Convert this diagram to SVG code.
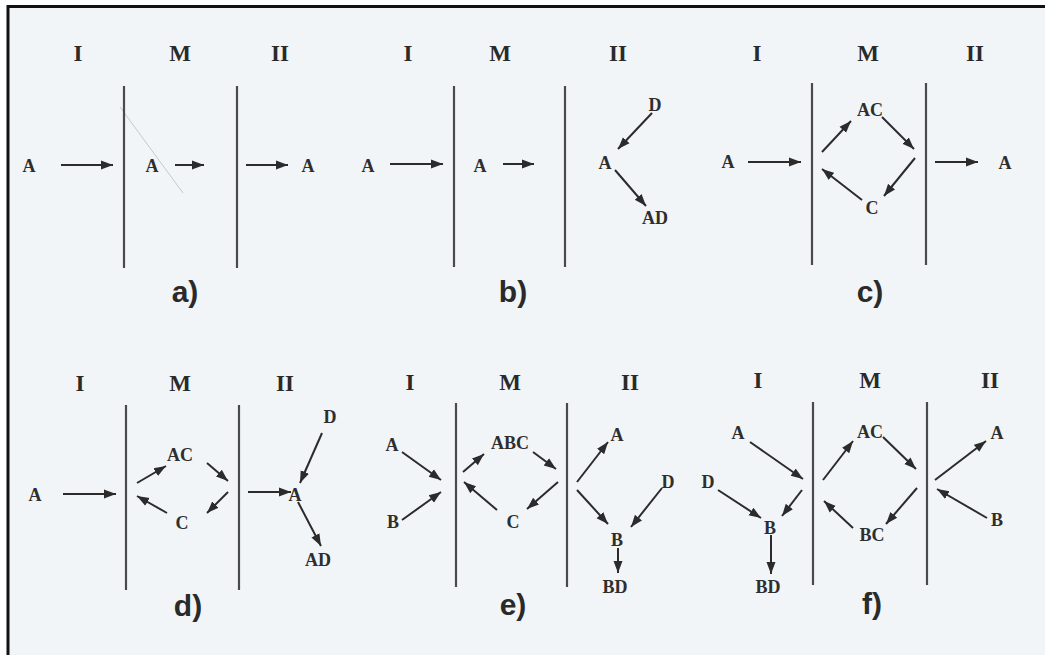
<svg xmlns="http://www.w3.org/2000/svg" width="1045" height="655" viewBox="0 0 1045 655">
<defs>
<marker id="ah" markerUnits="userSpaceOnUse" markerWidth="13" markerHeight="11" refX="12" refY="5.5" orient="auto">
<path d="M0,1 L12,5.5 L0,10 Z" fill="#2b2b2b"/>
</marker>
<style>
.bg{fill:#f1f5f8}
.hd{font-family:"Liberation Serif",serif;font-weight:bold;font-size:23px;fill:#2a2a2a;text-anchor:middle}
.lb{font-family:"Liberation Serif",serif;font-weight:bold;font-size:18px;fill:#2e2e2e;text-anchor:middle}
.pl{font-family:"Liberation Sans",Arial,sans-serif;font-weight:bold;font-size:30px;fill:#2a2a2a;text-anchor:middle}
.wall{stroke:#4a4a4a;stroke-width:2.2;fill:none}
.ar{stroke:#2b2b2b;stroke-width:2;fill:none;marker-end:url(#ah)}
</style>
</defs>
<rect x="0" y="0" width="1045" height="655" fill="#ffffff"/>
<rect class="bg" x="8" y="6" width="1037" height="649"/>
<path d="M8,655 L8,6.5 L1045,6.5" fill="none" stroke="#111" stroke-width="3"/>

<!-- faint scan artifact -->
<line x1="120" y1="107" x2="183" y2="193" stroke="#9aa0a6" stroke-width="1" opacity="0.5"/>

<g id="walls">
<line class="wall" x1="124" y1="86" x2="124" y2="268"/>
<line class="wall" x1="237" y1="86" x2="237" y2="268"/>
<line class="wall" x1="454" y1="86" x2="454" y2="267"/>
<line class="wall" x1="565" y1="86" x2="565" y2="267"/>
<line class="wall" x1="812" y1="83" x2="812" y2="265"/>
<line class="wall" x1="926" y1="83" x2="926" y2="265"/>
<line class="wall" x1="126" y1="405" x2="126" y2="590"/>
<line class="wall" x1="239" y1="405" x2="239" y2="590"/>
<line class="wall" x1="456" y1="403" x2="456" y2="587"/>
<line class="wall" x1="567" y1="403" x2="567" y2="587"/>
<line class="wall" x1="813" y1="402" x2="813" y2="585"/>
<line class="wall" x1="927" y1="402" x2="927" y2="585"/>
</g>

<g id="headers">
<text class="hd" x="78" y="61">I</text><text class="hd" x="180" y="61">M</text><text class="hd" x="280" y="61">II</text>
<text class="hd" x="408" y="61">I</text><text class="hd" x="500" y="61">M</text><text class="hd" x="618" y="61">II</text>
<text class="hd" x="757" y="61">I</text><text class="hd" x="868" y="61">M</text><text class="hd" x="975" y="61">II</text>
<text class="hd" x="80" y="391">I</text><text class="hd" x="180" y="391">M</text><text class="hd" x="285" y="391">II</text>
<text class="hd" x="410" y="390">I</text><text class="hd" x="510" y="390">M</text><text class="hd" x="630" y="390">II</text>
<text class="hd" x="758" y="388">I</text><text class="hd" x="870" y="388">M</text><text class="hd" x="990" y="388">II</text>
</g>

<g id="panel-a">
<text class="lb" x="29" y="172">A</text>
<text class="lb" x="152" y="172">A</text>
<text class="lb" x="308" y="172">A</text>
<text class="pl" x="185" y="302">a)</text>
</g>
<g id="panel-b">
<text class="lb" x="368" y="172">A</text>
<text class="lb" x="480" y="172">A</text>
<text class="lb" x="655" y="111">D</text>
<text class="lb" x="605" y="169">A</text>
<text class="lb" x="655" y="224">AD</text>
<text class="pl" x="513" y="302">b)</text>
</g>
<g id="panel-c">
<text class="lb" x="728" y="168">A</text>
<text class="lb" x="870" y="116">AC</text>
<text class="lb" x="872" y="214">C</text>
<text class="lb" x="1005" y="169">A</text>
<text class="pl" x="870" y="302">c)</text>
</g>
<g id="panel-d">
<text class="lb" x="35" y="501">A</text>
<text class="lb" x="180" y="461">AC</text>
<text class="lb" x="182" y="529">C</text>
<text class="lb" x="295" y="501">A</text>
<text class="lb" x="330" y="423">D</text>
<text class="lb" x="318" y="566">AD</text>
<text class="pl" x="188" y="616">d)</text>
</g>
<g id="panel-e">
<text class="lb" x="392" y="451">A</text>
<text class="lb" x="393" y="528">B</text>
<text class="lb" x="510" y="449">ABC</text>
<text class="lb" x="513" y="528">C</text>
<text class="lb" x="617" y="441">A</text>
<text class="lb" x="668" y="488">D</text>
<text class="lb" x="617" y="546">B</text>
<text class="lb" x="615" y="593">BD</text>
<text class="pl" x="513" y="615">e)</text>
</g>
<g id="panel-f">
<text class="lb" x="738" y="439">A</text>
<text class="lb" x="708" y="488">D</text>
<text class="lb" x="770" y="534">B</text>
<text class="lb" x="768" y="593">BD</text>
<text class="lb" x="870" y="438">AC</text>
<text class="lb" x="872" y="541">BC</text>
<text class="lb" x="997" y="439">A</text>
<text class="lb" x="997" y="526">B</text>
<text class="pl" x="872" y="614">f)</text>
</g>

<g id="connectors">
<!-- a -->
<line class="ar" x1="61" y1="165" x2="113" y2="165"/>
<line class="ar" x1="175" y1="165" x2="204" y2="165"/>
<line class="ar" x1="246" y1="165" x2="288" y2="165"/>
<!-- b -->
<line class="ar" x1="390" y1="164" x2="443" y2="164"/>
<line class="ar" x1="503" y1="164" x2="534" y2="164"/>
<line class="ar" x1="652" y1="113" x2="618" y2="149"/>
<line class="ar" x1="615" y1="170" x2="646" y2="206"/>
<!-- c -->
<line class="ar" x1="748" y1="162" x2="801" y2="162"/>
<line class="ar" x1="822" y1="152" x2="851" y2="121"/>
<line class="ar" x1="882" y1="117" x2="914" y2="149"/>
<line class="ar" x1="915" y1="158" x2="884" y2="196"/>
<line class="ar" x1="862" y1="200" x2="822" y2="169"/>
<line class="ar" x1="935" y1="162" x2="978" y2="162"/>
<!-- d -->
<line class="ar" x1="63" y1="494" x2="116" y2="494"/>
<line class="ar" x1="137" y1="483" x2="166" y2="466"/>
<line class="ar" x1="207" y1="463" x2="228" y2="481"/>
<line class="ar" x1="228" y1="492" x2="207" y2="513"/>
<line class="ar" x1="167" y1="513" x2="137" y2="496"/>
<line class="ar" x1="248" y1="492" x2="291" y2="492"/>
<line class="ar" x1="322" y1="433" x2="300" y2="483"/>
<line class="ar" x1="298" y1="502" x2="321" y2="546"/>
<!-- e -->
<line class="ar" x1="402" y1="452" x2="441" y2="480"/>
<line class="ar" x1="402" y1="520" x2="441" y2="492"/>
<line class="ar" x1="463" y1="472" x2="484" y2="454"/>
<line class="ar" x1="533" y1="452" x2="556" y2="469"/>
<line class="ar" x1="558" y1="482" x2="527" y2="509"/>
<line class="ar" x1="497" y1="510" x2="464" y2="482"/>
<line class="ar" x1="577" y1="482" x2="608" y2="442"/>
<line class="ar" x1="577" y1="490" x2="608" y2="524"/>
<line class="ar" x1="662" y1="488" x2="631" y2="527"/>
<line class="ar" x1="618" y1="548" x2="618" y2="573"/>
<!-- f -->
<line class="ar" x1="750" y1="442" x2="803" y2="479"/>
<line class="ar" x1="718" y1="490" x2="761" y2="518"/>
<line class="ar" x1="802" y1="490" x2="782" y2="516"/>
<line class="ar" x1="771" y1="535" x2="771" y2="574"/>
<line class="ar" x1="823" y1="480" x2="853" y2="441"/>
<line class="ar" x1="883" y1="437" x2="916" y2="469"/>
<line class="ar" x1="917" y1="488" x2="886" y2="524"/>
<line class="ar" x1="853" y1="528" x2="824" y2="501"/>
<line class="ar" x1="935" y1="480" x2="986" y2="441"/>
<line class="ar" x1="987" y1="518" x2="937" y2="489"/>
</g>
</svg>
